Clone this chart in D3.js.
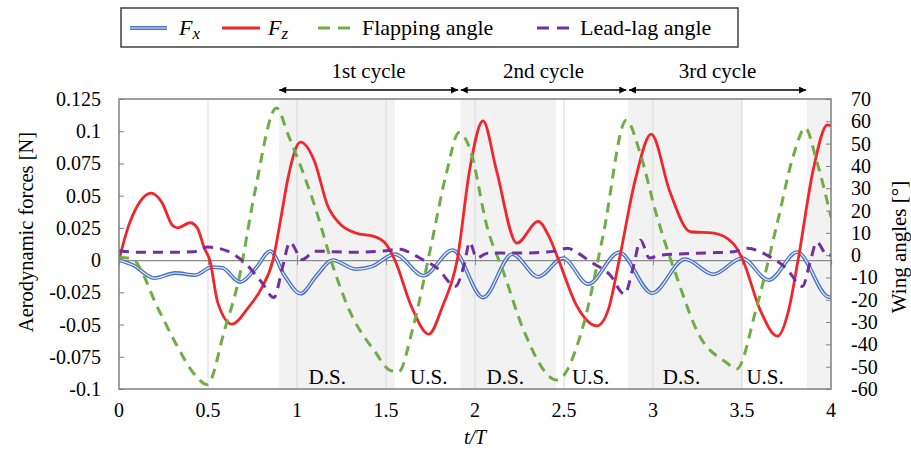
<!DOCTYPE html>
<html><head><meta charset="utf-8">
<script src="https://cdn.jsdelivr.net/npm/d3@7"></script>
<style>body{margin:0;background:#fff;} text{font-family:"Liberation Serif","Times New Roman",serif;fill:#000;}</style>
</head><body><svg id="c" width="911" height="450" font-family="Liberation Serif, Times New Roman, serif"></svg>
<script>
// ---- data ----
const xTicks = [0, 0.5, 1, 1.5, 2, 2.5, 3, 3.5, 4];
const xTickLabels = ["0", "0.5", "1", "1.5", "2", "2.5", "3", "3.5", "4"];
const leftTicks = [-0.1, -0.075, -0.05, -0.025, 0, 0.025, 0.05, 0.075, 0.1, 0.125];
const leftTickLabels = ["-0.1", "-0.075", "-0.05", "-0.025", "0", "0.025", "0.05", "0.075", "0.1", "0.125"];
const rightTicks = [-60, -50, -40, -30, -20, -10, 0, 10, 20, 30, 40, 50, 60, 70];

const fzT = [0, 0.05, 0.107, 0.18, 0.24, 0.30, 0.33, 0.40, 0.44, 0.48, 0.51, 0.555, 0.635, 0.725, 0.80, 0.865, 0.915, 0.95, 1.02, 1.10, 1.17, 1.25, 1.33, 1.44, 1.49, 1.55, 1.64, 1.74, 1.82, 1.90, 1.97, 2.045, 2.12, 2.235, 2.355, 2.41, 2.47, 2.57, 2.685, 2.75, 2.81, 2.90, 2.99, 3.095, 3.21, 3.34, 3.45, 3.505, 3.60, 3.70, 3.76, 3.815, 3.90, 3.98, 4.0];
const fzV = [0, 0.025, 0.043, 0.052, 0.045, 0.027, 0.025, 0.029, 0.025, 0.009, 0, -0.033, -0.0497, -0.037, -0.022, 0, 0.037, 0.064, 0.0915, 0.076, 0.043, 0.027, 0.021, 0.018, 0.014, 0, -0.035, -0.0574, -0.035, 0, 0.07, 0.108, 0.07, 0.0132, 0.030, 0.02, 0, -0.035, -0.051, -0.038, 0, 0.062, 0.0977, 0.053, 0.022, 0.021, 0.013, 0, -0.038, -0.059, -0.04, 0, 0.07, 0.105, 0.104];

const fxT = [0, 0.08, 0.20, 0.315, 0.43, 0.52, 0.58, 0.68, 0.77, 0.85, 0.93, 1.02, 1.11, 1.20, 1.33, 1.42, 1.55, 1.71, 1.875, 2.045, 2.21, 2.355, 2.495, 2.635, 2.81, 2.995, 3.18, 3.34, 3.50, 3.65, 3.81, 3.99, 4.0];
const fxV = [0, -0.004, -0.014, -0.010, -0.0116, -0.0054, -0.006, -0.017, -0.006, 0.007, -0.012, -0.026, -0.012, 0, -0.007, -0.005, 0.0047, -0.012, 0.0078, -0.029, 0.0047, -0.013, 0.0016, -0.0186, 0.006, -0.0256, 0.0008, -0.011, 0.0016, -0.0155, 0.0062, -0.0287, -0.0287];

const flapT = [0, 0.07, 0.22, 0.315, 0.43, 0.495, 0.595, 0.67, 0.76, 0.885, 0.95, 1.10, 1.20, 1.29, 1.44, 1.52, 1.57, 1.65, 1.75, 1.84, 1.91, 1.97, 2.07, 2.16, 2.27, 2.46, 2.61, 2.72, 2.85, 2.93, 3.02, 3.13, 3.26, 3.41, 3.47, 3.58, 3.70, 3.79, 3.855, 3.92, 4.0];
const flapV = [-1, -1.5, -24, -39, -54, -58, -33, -12, 27, 66, 54, 22, -4.5, -24, -43.5, -51.5, -52.4, -33, 3, 37, 55, 48, 12, -7.6, -33, -56, -31, 9, 60.5, 45, 18, -9, -36, -48, -51, -24, 15, 45, 57, 42, 17];

const leadT = [0, 0.1, 0.3, 0.42, 0.5, 0.61, 0.72, 0.80, 0.87, 0.92, 0.96, 1.03, 1.10, 1.3, 1.5, 1.58, 1.63, 1.69, 1.79, 1.89, 1.94, 1.97, 2.01, 2.07, 2.3, 2.45, 2.52, 2.57, 2.65, 2.76, 2.84, 2.89, 2.93, 2.98, 3.04, 3.3, 3.45, 3.53, 3.64, 3.75, 3.84, 3.88, 3.92, 3.98, 4.0];
const leadV = [2, 1.3, 1.3, 1.5, 3.6, 1.8, -4.5, -12, -19, -5, 5.8, -2, 1.8, 1.3, 2, 2.7, 1.3, -1.3, -6, -14, -4, 5.8, -1.3, 0.9, 1, 1.8, 3.1, 1.3, -3, -9, -17.5, -5, 6.7, -1.3, 0, 1, 1.5, 3.1, 0, -6, -14, -4, 5.8, 0, 0];

const shadeStart = [0.9, 1.92, 2.86, 3.865];
const shadeEnd = [1.55, 2.455, 3.5, 4.0];
const strokeLabels = ["D.S.", "U.S.", "D.S.", "U.S.", "D.S.", "U.S."];
const strokeLabelT = [1.17, 1.74, 2.17, 2.65, 3.16, 3.63];
const cycleLabels = ["1st cycle", "2nd cycle", "3rd cycle"];
const cycleStart = [0.9, 1.92, 2.865];
const cycleEnd = [1.905, 2.85, 3.86];

// ---- layout ----
const L = 119, R = 831, T = 99, B = 389;
const FONT = "Liberation Serif, Times New Roman, serif";
const svg = d3.select("#c");
const x = d3.scaleLinear().domain([0, 4]).range([L, R]);
const yL = d3.scaleLinear().domain([-0.1, 0.125]).range([B, T]);
const yR = d3.scaleLinear().domain([-60, 70]).range([B, T]);

const COL = {fx: "#4a72c4", fz: "#f0262a", flap: "#70ad47", lead: "#7030a0"};

// shading
svg.append("g").selectAll("rect").data(shadeStart).join("rect")
  .attr("x", d => x(d)).attr("y", T)
  .attr("width", (d, i) => x(shadeEnd[i]) - x(d)).attr("height", B - T)
  .attr("fill", "#f2f2f2");

// vertical grid
svg.append("g").selectAll("line").data(xTicks.slice(1, -1)).join("line")
  .attr("x1", d => x(d)).attr("x2", d => x(d)).attr("y1", T).attr("y2", B)
  .attr("stroke", "#d9d9d9").attr("stroke-width", 1);

// zero axis line with ticks
const xAxisG = svg.append("g").attr("transform", `translate(0,${yL(0)})`)
  .call(d3.axisBottom(x).tickValues(xTicks.slice(1, -1)).tickSize(5).tickFormat(""));
xAxisG.select(".domain").attr("stroke", "#8c8c8c").attr("stroke-width", 1.2);
xAxisG.selectAll(".tick line").attr("stroke", "#8c8c8c").attr("y1", -5).attr("y2", 5);

// stroke labels
svg.append("g").selectAll("text").data(strokeLabels).join("text")
  .attr("x", (d, i) => x(strokeLabelT[i])).attr("y", 384)
  .attr("text-anchor", "middle").attr("font-family", FONT).attr("font-size", 21).text(d => d);

// left axis
const gl = svg.append("g").attr("transform", `translate(${L},0)`)
  .call(d3.axisRight(yL).tickValues(leftTicks).tickSize(5).tickFormat(""));
gl.select(".domain").remove();
gl.selectAll(".tick line").attr("stroke", "#7f7f7f");
svg.append("g").selectAll("text").data(leftTicks).join("text")
  .attr("x", 101).attr("y", d => yL(d)).attr("dy", "0.35em")
  .attr("text-anchor", "end").attr("font-family", FONT).attr("font-size", 20).text((d, i) => leftTickLabels[i]);

// right axis
const gr = svg.append("g").attr("transform", `translate(${R},0)`)
  .call(d3.axisLeft(yR).tickValues(rightTicks).tickSize(5).tickFormat(""));
gr.select(".domain").remove();
gr.selectAll(".tick line").attr("stroke", "#7f7f7f");
svg.append("g").selectAll("text").data(rightTicks).join("text")
  .attr("x", 851).attr("y", d => yR(d)).attr("dy", "0.35em")
  .attr("text-anchor", "start").attr("font-family", FONT).attr("font-size", 20).text(d => d);

// bottom tick labels
svg.append("g").selectAll("text").data(xTicks).join("text")
  .attr("x", d => x(d)).attr("y", 417)
  .attr("text-anchor", "middle").attr("font-family", FONT).attr("font-size", 20).text((d, i) => xTickLabels[i]);

// axis titles
svg.append("text").attr("x", x(2)).attr("y", 444).attr("text-anchor", "middle")
  .attr("font-family", FONT).attr("font-size", 20).attr("font-style", "italic").text("t/T");
svg.append("text").attr("transform", `translate(33,232) rotate(-90)`)
  .attr("text-anchor", "middle").attr("font-family", FONT).attr("font-size", 20.5).text("Aerodynamic forces [N]");
svg.append("text").attr("transform", `translate(906,247) rotate(-90)`)
  .attr("text-anchor", "middle").attr("font-family", FONT).attr("font-size", 21).text("Wing angles [°]");

// lines
svg.append("clipPath").attr("id", "pc").append("rect")
  .attr("x", L).attr("y", T - 2).attr("width", R - L).attr("height", B - T + 4);
const lineL = (ts) => d3.line().x((d, i) => x(ts[i])).y(d => yL(d)).curve(d3.curveMonotoneX);
const lineR = (ts) => d3.line().x((d, i) => x(ts[i])).y(d => yR(d)).curve(d3.curveMonotoneX);
const lines = svg.append("g").attr("clip-path", "url(#pc)");

lines.append("path").attr("d", lineL(fxT)(fxV)).attr("fill", "none")
  .attr("stroke", COL.fx).attr("stroke-width", 3.8);
lines.append("path").attr("d", lineL(fxT)(fxV)).attr("fill", "none")
  .attr("stroke", "#e3eaf7").attr("stroke-width", 1.2);
lines.append("path").attr("d", lineL(fzT)(fzV)).attr("fill", "none")
  .attr("stroke", COL.fz).attr("stroke-width", 2.8);
lines.append("path").attr("d", lineR(flapT)(flapV)).attr("fill", "none")
  .attr("stroke", COL.flap).attr("stroke-width", 3).attr("stroke-dasharray", "10,7");
lines.append("path").attr("d", lineR(leadT)(leadV)).attr("fill", "none")
  .attr("stroke", COL.lead).attr("stroke-width", 3).attr("stroke-dasharray", "10,7");

// frame
svg.append("rect").attr("x", L).attr("y", T).attr("width", R - L).attr("height", B - T)
  .attr("fill", "none").attr("stroke", "#7f7f7f").attr("stroke-width", 1.5);

// cycle arrows
const defs = svg.append("defs");
defs.append("marker").attr("id", "ah").attr("viewBox", "0 0 10 10").attr("refX", 10).attr("refY", 5)
  .attr("markerWidth", 9).attr("markerHeight", 7).attr("markerUnits", "userSpaceOnUse").attr("orient", "auto-start-reverse")
  .append("path").attr("d", "M0,0 L10,5 L0,10 Z").attr("fill", "#000");
svg.append("g").selectAll("line").data(cycleStart).join("line")
  .attr("x1", d => x(d)).attr("x2", (d, i) => x(cycleEnd[i])).attr("y1", 90).attr("y2", 90)
  .attr("stroke", "#000").attr("stroke-width", 1.5)
  .attr("marker-start", "url(#ah)").attr("marker-end", "url(#ah)");
svg.append("g").selectAll("text").data(cycleLabels).join("text")
  .attr("x", (d, i) => x((cycleStart[i] + cycleEnd[i]) / 2)).attr("y", 78)
  .attr("text-anchor", "middle").attr("font-family", FONT).attr("font-size", 21).text(d => d);

// legend
const lg = svg.append("g");
lg.append("rect").attr("x", 121).attr("y", 8).attr("width", 617).attr("height", 39)
  .attr("fill", "#fff").attr("stroke", "#404040").attr("stroke-width", 1.5);
const ly = 28;
lg.append("line").attr("x1", 130).attr("x2", 167).attr("y1", ly).attr("y2", ly).attr("stroke", COL.fx).attr("stroke-width", 3.8);
lg.append("line").attr("x1", 130).attr("x2", 167).attr("y1", ly).attr("y2", ly).attr("stroke", "#e3eaf7").attr("stroke-width", 1.2);
const t1 = lg.append("text").attr("x", 179).attr("y", ly + 7).attr("font-family", FONT).attr("font-size", 22).attr("font-style", "italic");
t1.append("tspan").text("F");
t1.append("tspan").attr("dy", 4).attr("font-size", 17).text("x");
lg.append("line").attr("x1", 222).attr("x2", 260).attr("y1", ly).attr("y2", ly).attr("stroke", COL.fz).attr("stroke-width", 2.8);
const t2 = lg.append("text").attr("x", 268).attr("y", ly + 7).attr("font-family", FONT).attr("font-size", 22).attr("font-style", "italic");
t2.append("tspan").text("F");
t2.append("tspan").attr("dy", 4).attr("font-size", 17).text("z");
lg.append("line").attr("x1", 318).attr("x2", 355).attr("y1", ly).attr("y2", ly).attr("stroke", COL.flap).attr("stroke-width", 3).attr("stroke-dasharray", "12,8");
lg.append("text").attr("x", 362).attr("y", ly + 7).attr("font-family", FONT).attr("font-size", 22).text("Flapping angle");
lg.append("line").attr("x1", 537).attr("x2", 573).attr("y1", ly).attr("y2", ly).attr("stroke", COL.lead).attr("stroke-width", 3).attr("stroke-dasharray", "12,8");
lg.append("text").attr("x", 580).attr("y", ly + 7).attr("font-family", FONT).attr("font-size", 22).text("Lead-lag angle");
</script></body></html>
